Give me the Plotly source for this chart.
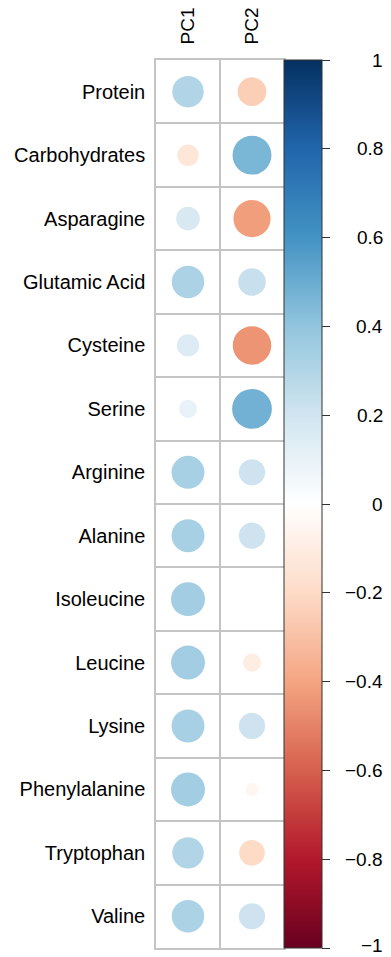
import numpy as np
import plotly.graph_objects as go

# ---- data ----
rows = ["Protein", "Carbohydrates", "Asparagine", "Glutamic Acid", "Cysteine",
        "Serine", "Arginine", "Alanine", "Isoleucine", "Leucine", "Lysine",
        "Phenylalanine", "Tryptophan", "Valine"]
cols = ["PC1", "PC2"]
pc1 = [0.30, -0.14, 0.17, 0.32, 0.15, 0.10, 0.33, 0.33, 0.35, 0.35, 0.33, 0.35, 0.30, 0.32]
pc2 = [-0.25, 0.46, -0.42, 0.23, -0.45, 0.48, 0.21, 0.21, 0.0, -0.10, 0.21, -0.05, -0.20, 0.21]
cbar_ticks = [1, 0.8, 0.6, 0.4, 0.2, 0, -0.2, -0.4, -0.6, -0.8, -1]
cbar_labels = ["1", "0.8", "0.6", "0.4", "0.2", "0", "\u22120.2", "\u22120.4",
               "\u22120.6", "\u22120.8", "\u22121"]

rdbu = ["#67001F", "#B2182B", "#D6604D", "#F4A582", "#FDDBC7", "#FFFFFF",
        "#D1E5F0", "#92C5DE", "#4393C3", "#2166AC", "#053061"]
colorscale = [[i / (len(rdbu) - 1), c] for i, c in enumerate(rdbu)]

# ---- layout geometry ----
W, H = 391, 957
ML, MR, MT, MB = 156, 107, 57, 7
plot_h = H - MT - MB
cell = plot_h / len(rows)

xs, ys, vals = [], [], []
for j, series in enumerate([pc1, pc2]):
    for i, v in enumerate(series):
        xs.append(j + 1)
        ys.append(i + 1)
        vals.append(v)
vals = np.array(vals)
sizes = 0.9 * np.sqrt(np.abs(vals)) * cell

grid_col = "#C4C4C4"
font = "Liberation Sans, Arial, Helvetica, sans-serif"

fig = go.Figure()
fig.add_trace(go.Scatter(
    x=xs, y=ys, mode="markers",
    marker=dict(
        size=sizes, sizemode="diameter", color=vals,
        colorscale=colorscale, cmin=-1, cmax=1,
        line=dict(width=0), opacity=1,
        colorbar=dict(
            x=1.0, xanchor="left", xpad=0, xref="paper",
            y=0.5, yanchor="middle", ypad=0, len=1, lenmode="fraction",
            thickness=38, outlinewidth=1, outlinecolor="#333333",
            ticks="outside", ticklen=8, tickwidth=1, tickcolor="#333333",
            tickmode="array", tickvals=cbar_ticks, showticklabels=False,
        ),
    ),
    hoverinfo="skip", showlegend=False,
))

for v, lab in zip(cbar_ticks, cbar_labels):
    fig.add_annotation(
        x=1.79, xref="paper", y=(v + 1) / 2, yref="paper",
        text=lab, showarrow=False, xanchor="right", yanchor="middle",
        yshift=3 if v == -1 else 0,
        font=dict(family=font, size=19, color="black"),
    )

fig.update_xaxes(
    range=[0.5, 2.5], side="top", tickmode="array",
    tickvals=[1, 2], ticktext=cols, tickangle=-90,
    tickfont=dict(family=font, size=19, color="black"),
    ticks="", ticklabelstandoff=10,
    showgrid=False, zeroline=False,
    showline=True, mirror=True, linecolor=grid_col, linewidth=1.5,
    minor=dict(tick0=0.5, dtick=1, showgrid=True, gridcolor=grid_col, gridwidth=1.5, ticks=""),
    fixedrange=True,
)
fig.update_yaxes(
    range=[len(rows) + 0.5, 0.5], tickmode="array",
    tickvals=list(range(1, len(rows) + 1)), ticktext=rows,
    tickfont=dict(family=font, size=20, color="black"),
    ticks="", ticklabelstandoff=5,
    showgrid=False, zeroline=False,
    showline=True, mirror=True, linecolor=grid_col, linewidth=1.5,
    minor=dict(tick0=0.5, dtick=1, showgrid=True, gridcolor=grid_col, gridwidth=1.5, ticks=""),
    fixedrange=True,
)

fig.update_layout(
    width=W, height=H,
    margin=dict(l=ML, r=MR, t=MT, b=MB, pad=0),
    plot_bgcolor="white", paper_bgcolor="white",
    font=dict(family=font),
)

fig.write_html("out.html")
